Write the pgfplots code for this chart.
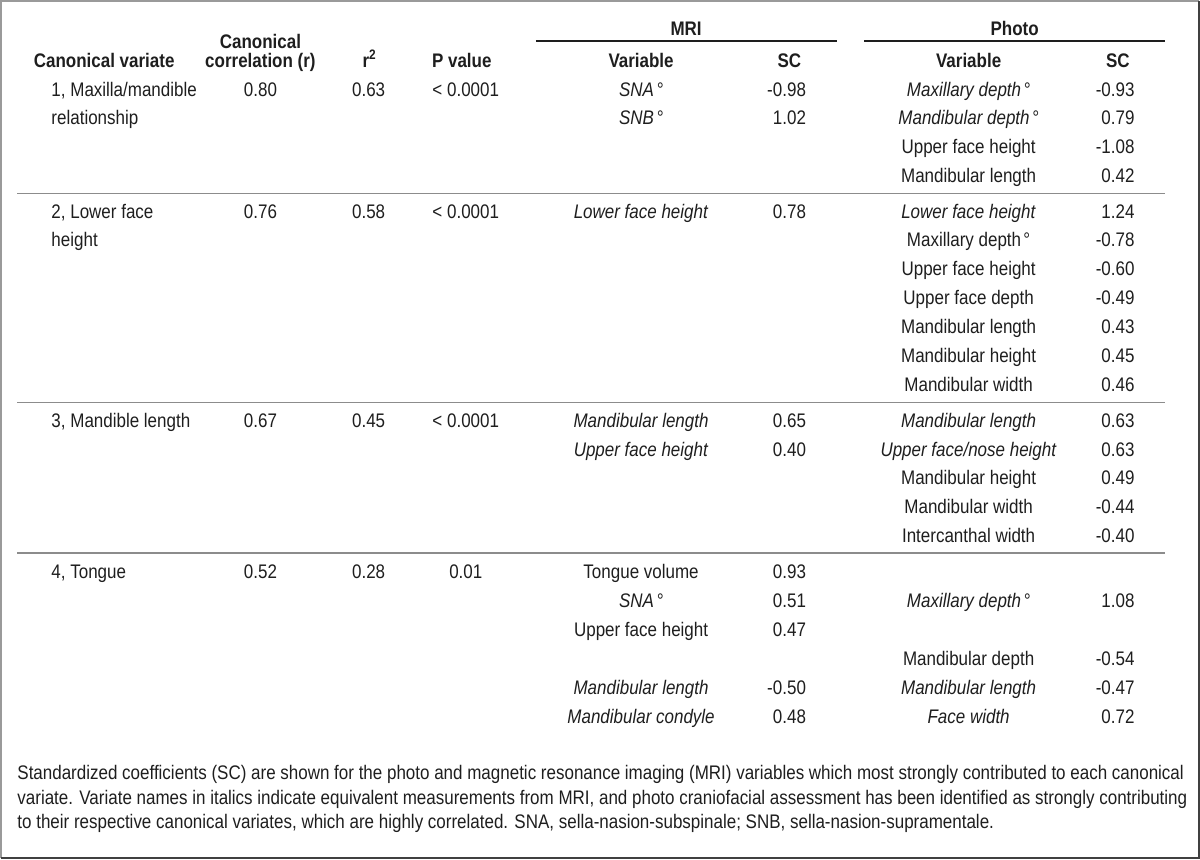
\documentclass[border=0pt]{standalone}
\usepackage{fontspec}
\setmainfont{Liberation Sans}[FakeStretch=0.865]
\usepackage{pgfplots}
\pgfplotsset{compat=1.18}
\definecolor{ink}{HTML}{1E1E1E}
\definecolor{rulegray}{HTML}{8C8C8C}
\definecolor{framegray}{HTML}{9A9A9A}
\newcommand\tf{\fontsize{9.8}{11}\selectfont}
\newcommand\dg{\kern0.12em°}
\newcommand\ital[1]{\textit{#1}}
\newcommand\semi{;}
\pgfplotsset{
  cell/.style={draw=none, mark=none, point meta=explicit symbolic,
    nodes near coords={\pgfplotspointmeta},
    every node near coord/.append style={font=\tf, text=ink, inner sep=0pt, anchor=#1}},
  sep/.style={draw=rulegray, line width=0.75pt, mark=none},
}
\begin{document}
\begin{tikzpicture}
\begin{axis}[width=600pt, height=430pt, scale only axis,
  xmin=0, xmax=1200, ymin=0, ymax=860, y dir=reverse,
  hide axis, clip=false]

% frame
\addplot[draw=framegray, line width=1pt, mark=none] coordinates {(1198,2) (2,2) (2,858)};
\addplot[draw=black!75, line width=1pt, mark=none] coordinates {(2,858) (1198,858) (1198,2)};

% rules
\addplot[draw=ink, line width=0.7pt, mark=none] coordinates {(536,42) (837,42)};
\addplot[draw=ink, line width=0.7pt, mark=none] coordinates {(864,42) (1164,42)};
\addplot[sep] coordinates {(18,194) (1164,194)};
\addplot[sep] coordinates {(18,403) (1164,403)};
\addplot[sep] coordinates {(18,553) (1164,553)};

% header
\addplot[cell=base] coordinates {
  (686,36) [{\bfseries MRI}] (1014,36) [{\bfseries Photo}]
  (261,49) [{\bfseries Canonical}]
  (105,68) [{\bfseries Canonical variate}] (261,68) [{\bfseries correlation (r)}]
  (370,68) [{\bfseries r\textsuperscript{2}}] (462,68) [{\bfseries P value}]
  (641,68) [{\bfseries Variable}] (789,68) [{\bfseries SC}]
  (968,68) [{\bfseries Variable}] (1117,68) [{\bfseries SC}]};

% canonical variate names
\addplot[cell=base west] coordinates {
  (52,97) [{1, Maxilla/mandible}] (52,125) [{relationship}]
  (52,219) [{2, Lower face}] (52,247) [{height}]
  (52,428) [{3, Mandible length}]
  (52,579) [{4, Tongue}]};

% r, r2, P
\addplot[cell=base] coordinates {
  (261,97) [0.80] (261,219) [0.76] (261,428) [0.67] (261,579) [0.52]
  (369,97) [0.63] (369,219) [0.58] (369,428) [0.45] (369,579) [0.28]
  (466,97) [{< 0.0001}] (466,219) [{< 0.0001}] (466,428) [{< 0.0001}] (466,579) [0.01]};

% MRI variables
\addplot[cell=base] coordinates {
  (641,97) [{\ital{SNA\dg}}] (641,125) [{\ital{SNB\dg}}]
  (641,219) [{\ital{Lower face height}}]
  (641,428) [{\ital{Mandibular length}}] (641,457) [{\ital{Upper face height}}]
  (641,579) [{Tongue volume}] (641,607) [{\ital{SNA\dg}}] (641,636) [{Upper face height}]
  (641,694) [{\ital{Mandibular length}}] (641,723) [{\ital{Mandibular condyle}}]};

% MRI SC
\addplot[cell=base east] coordinates {
  (806,97) [-0.98] (806,125) [1.02]
  (806,219) [0.78]
  (806,428) [0.65] (806,457) [0.40]
  (806,579) [0.93] (806,607) [0.51] (806,636) [0.47] (806,694) [-0.50] (806,723) [0.48]};

% Photo variables
\addplot[cell=base] coordinates {
  (968,97) [{\ital{Maxillary depth\dg}}] (968,125) [{\ital{Mandibular depth\dg}}]
  (968,154) [{Upper face height}] (968,183) [{Mandibular length}]
  (968,219) [{\ital{Lower face height}}] (968,247) [{Maxillary depth\dg}]
  (968,276) [{Upper face height}] (968,305) [{Upper face depth}]
  (968,334) [{Mandibular length}] (968,363) [{Mandibular height}] (968,392) [{Mandibular width}]
  (968,428) [{\ital{Mandibular length}}] (968,457) [{\ital{Upper face/nose height}}]
  (968,485) [{Mandibular height}] (968,514) [{Mandibular width}] (968,543) [{Intercanthal width}]
  (968,607) [{\ital{Maxillary depth\dg}}] (968,665) [{Mandibular depth}]
  (968,694) [{\ital{Mandibular length}}] (968,723) [{\ital{Face width}}]};

% Photo SC
\addplot[cell=base east] coordinates {
  (1134,97) [-0.93] (1134,125) [0.79] (1134,154) [-1.08] (1134,183) [0.42]
  (1134,219) [1.24] (1134,247) [-0.78] (1134,276) [-0.60] (1134,305) [-0.49]
  (1134,334) [0.43] (1134,363) [0.45] (1134,392) [0.46]
  (1134,428) [0.63] (1134,457) [0.63] (1134,485) [0.49] (1134,514) [-0.44] (1134,543) [-0.40]
  (1134,607) [1.08] (1134,665) [-0.54] (1134,694) [-0.47] (1134,723) [0.72]};

% footnote
\addplot[cell=base west] coordinates {
  (18,779) [{Standardized coefficients (SC) are shown for the photo and magnetic resonance imaging (MRI) variables which most strongly contributed to each canonical}]
  (18,804) [{variate. Variate names in italics indicate equivalent measurements from MRI, and photo craniofacial assessment has been identified as strongly contributing}]
  (18,828) [{to their respective canonical variates, which are highly correlated. SNA, sella-nasion-subspinale\semi{} SNB, sella-nasion-supramentale.}]};

\end{axis}
\end{tikzpicture}
\end{document}
